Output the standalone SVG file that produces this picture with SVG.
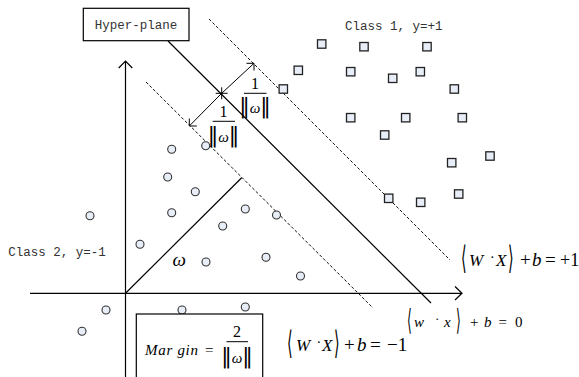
<svg xmlns="http://www.w3.org/2000/svg" width="579" height="377" viewBox="0 0 579 377">
<style>
.ax{stroke:#000;stroke-width:1.2;fill:none}
.hp{stroke:#000;stroke-width:1.2;fill:none}
.dash{stroke:#111;stroke-width:1;fill:none;stroke-dasharray:3,2}
.ar{stroke:#000;stroke-width:1;fill:none}
.sq{fill:#e8eef8;stroke:#222;stroke-width:1.3}
.ci{fill:#e8eef8;stroke:#333;stroke-width:1.1}
.box{fill:#fff;stroke:#000;stroke-width:1.2}
.mono{font-family:'Liberation Mono','DejaVu Sans Mono',monospace;font-size:12.5px;fill:#333}
.m{font-family:'Liberation Serif','Times New Roman',serif;fill:#000}
.it{font-style:italic}
.br{font-family:'DejaVu Sans',sans-serif;fill:#000}
</style>
<defs>
<rect id="s" x="-4.2" y="-4.2" width="8.4" height="8.4" class="sq"/>
<circle id="c" r="4" class="ci"/>
</defs>
<g id="connectors">
<line class="ax" x1="30" y1="293.3" x2="462" y2="293.3"/>
<polyline class="ax" points="455,286.5 462,293.3 455,300"/>
<line class="ax" x1="125.5" y1="377" x2="125.5" y2="61"/>
<polyline class="ax" points="118.7,68 125.5,61 132.3,68"/>
<line class="hp" x1="168" y1="41" x2="431" y2="303"/>
<line class="dash" x1="209" y1="19" x2="450" y2="260"/>
<line class="dash" x1="146" y1="82" x2="373" y2="308"/>
<line class="ax" x1="125.5" y1="293.3" x2="241.7" y2="177.7"/>
<line class="ar" x1="221.7" y1="93.3" x2="254" y2="63.3"/>
<polyline class="ar" points="246.5,63.3 254,63.3 254,70.5"/>
<line class="ar" x1="221.7" y1="93.3" x2="189.3" y2="126"/>
<polyline class="ar" points="196.8,126 189.3,126 189.3,118.5"/>
<line class="ar" x1="215.7" y1="93.3" x2="227.7" y2="93.3"/>
<line class="ar" x1="221.7" y1="87.3" x2="221.7" y2="99.3"/>
</g>
<g id="hyperplane-label">
<rect class="box" x="83.3" y="8.3" width="105.7" height="32.4"/>
<text class="mono" x="136" y="29" text-anchor="middle">Hyper-plane</text>
</g>
<g id="class1">
<text class="mono" x="345" y="29.5">Class 1, y=+1</text>
<use href="#s" x="321.7" y="44"/>
<use href="#s" x="364" y="46.7"/>
<use href="#s" x="427" y="46.7"/>
<use href="#s" x="298.3" y="70.3"/>
<use href="#s" x="350.7" y="71.7"/>
<use href="#s" x="392.7" y="78.3"/>
<use href="#s" x="420.3" y="71.7"/>
<use href="#s" x="283.3" y="89"/>
<use href="#s" x="454.3" y="89"/>
<use href="#s" x="350.7" y="117.7"/>
<use href="#s" x="405.7" y="117.7"/>
<use href="#s" x="462.3" y="117.7"/>
<use href="#s" x="384.7" y="135"/>
<use href="#s" x="451.7" y="162.7"/>
<use href="#s" x="490" y="156"/>
<use href="#s" x="388.7" y="198.3"/>
<use href="#s" x="420.7" y="202.3"/>
<use href="#s" x="458.7" y="194"/>
</g>
<g id="class2">
<text class="mono" x="8.3" y="255.5">Class 2, y=-1</text>
<use href="#c" x="171.7" y="149.3"/>
<use href="#c" x="205.7" y="145.7"/>
<use href="#c" x="167.7" y="177"/>
<use href="#c" x="195.3" y="191.7"/>
<use href="#c" x="171.7" y="212.7"/>
<use href="#c" x="245.3" y="209"/>
<use href="#c" x="222.7" y="226"/>
<use href="#c" x="276.5" y="215"/>
<use href="#c" x="90" y="215.7"/>
<use href="#c" x="140" y="244.3"/>
<use href="#c" x="206" y="262"/>
<use href="#c" x="266" y="257.3"/>
<use href="#c" x="300.5" y="276"/>
<use href="#c" x="106" y="310"/>
<use href="#c" x="182" y="310"/>
<use href="#c" x="245.3" y="307"/>
<use href="#c" x="82" y="331.3"/>
</g>
<g id="omega-label">
<text class="m it" x="172.5" y="265.5" font-size="19" font-family="Liberation Serif" font-style="italic">ω</text>
</g>
<g id="dist-upper">
<text class="m" x="255" y="88.5" font-size="16" text-anchor="middle" font-family="Liberation Serif">1</text>
<line class="ar" x1="244" y1="93.3" x2="266.5" y2="93.3"/>
<text x="255" y="113" text-anchor="middle"><tspan class="br" font-size="21">‖</tspan><tspan font-family="Liberation Serif" font-style="italic" font-size="15">ω</tspan><tspan class="br" font-size="21">‖</tspan></text>
</g>
<g id="dist-lower">
<text class="m" x="223.5" y="116.5" font-size="16" text-anchor="middle" font-family="Liberation Serif">1</text>
<line class="ar" x1="212.7" y1="121.3" x2="235" y2="121.3"/>
<text x="223.5" y="141.5" text-anchor="middle"><tspan class="br" font-size="21">‖</tspan><tspan font-family="Liberation Serif" font-style="italic" font-size="15">ω</tspan><tspan class="br" font-size="21">‖</tspan></text>
</g>
<g id="margin-box">
<rect class="box" x="136.3" y="314" width="126.4" height="80"/>
<text x="145" y="355" font-size="15" font-family="Liberation Serif" font-style="italic" textLength="53" lengthAdjust="spacing">Mar gin</text>
<text x="205" y="355" font-size="15" font-family="Liberation Serif">=</text>
<text x="237" y="337" font-size="16" text-anchor="middle" font-family="Liberation Serif">2</text>
<line class="ar" x1="226.5" y1="341.7" x2="248" y2="341.7"/>
<text x="237" y="362.5" text-anchor="middle"><tspan class="br" font-size="21">‖</tspan><tspan font-family="Liberation Serif" font-style="italic" font-size="15">ω</tspan><tspan class="br" font-size="21">‖</tspan></text>
</g>
<g id="eq-plus1" font-family="Liberation Serif" font-size="19">
<text class="br" x="461" y="269" font-size="32" transform="translate(461 0) scale(0.45 1) translate(-461 0)">⟨</text>
<text x="469" y="266" font-size="17" font-style="italic">W</text>
<text x="490" y="262" font-size="14">·</text>
<text x="496" y="266" font-size="17" font-style="italic">X</text>
<text class="br" x="508" y="269" font-size="32" transform="translate(508 0) scale(0.45 1) translate(-508 0)">⟩</text>
<text x="520" y="266">+</text>
<text x="532" y="266" font-style="italic">b</text>
<text x="545" y="266">=</text>
<text x="560" y="266" font-size="18">+1</text>
</g>
<g id="eq-zero" font-family="Liberation Serif" font-size="15">
<text class="br" x="407" y="330" font-size="29" transform="translate(407 0) scale(0.42 1) translate(-407 0)">⟨</text>
<text x="414" y="326.5" font-style="italic">w</text>
<text x="435" y="323" font-size="13">·</text>
<text x="444" y="326.5" font-style="italic">x</text>
<text class="br" x="456" y="330" font-size="29" transform="translate(456 0) scale(0.42 1) translate(-456 0)">⟩</text>
<text x="470" y="326.5">+</text>
<text x="484" y="326.5" font-style="italic">b</text>
<text x="498.5" y="326.5">=</text>
<text x="515" y="326.5">0</text>
</g>
<g id="eq-minus1" font-family="Liberation Serif" font-size="19">
<text class="br" x="287" y="354" font-size="32" transform="translate(287 0) scale(0.45 1) translate(-287 0)">⟨</text>
<text x="296" y="350.5" font-size="17" font-style="italic">W</text>
<text x="316.5" y="346.5" font-size="14">·</text>
<text x="322" y="350.5" font-size="17" font-style="italic">X</text>
<text class="br" x="334" y="354" font-size="32" transform="translate(334 0) scale(0.45 1) translate(-334 0)">⟩</text>
<text x="344" y="350.5">+</text>
<text x="357" y="350.5" font-style="italic">b</text>
<text x="370" y="350.5">=</text>
<text x="387" y="350.5">−1</text>
</g>
</svg>
